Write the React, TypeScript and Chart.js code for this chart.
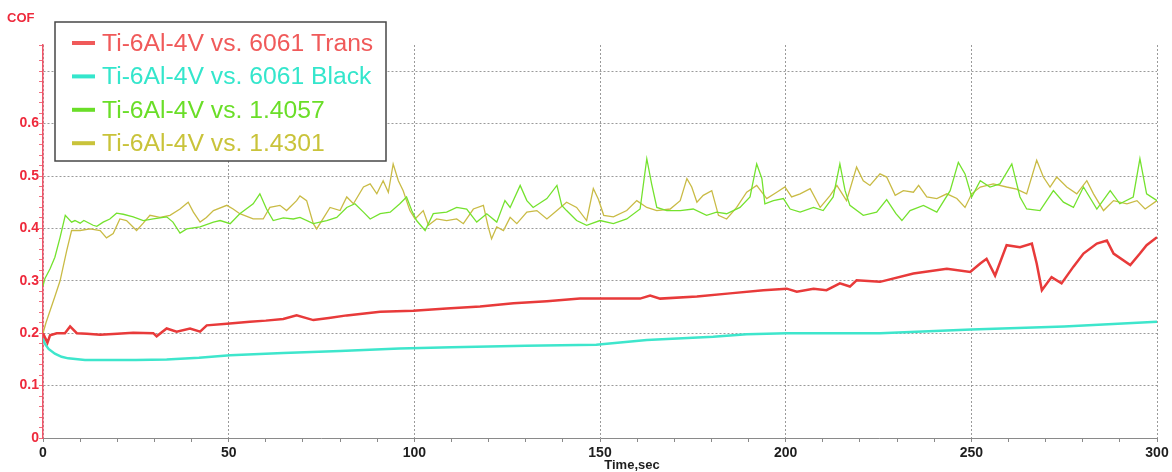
import { useEffect, useRef } from "react";
import { Chart, registerables } from "chart.js";

Chart.register(...registerables);

// ---- series: time (s) and coefficient of friction ----
const transTime = [0, 1.2, 1.9, 3.7, 5.9, 7.3, 9.1, 11.8, 15.4, 20, 24.3, 29.7, 30.6, 33.3, 36, 39.6, 42.3, 44.1, 49.5, 55.7, 60, 64.7, 68.3, 72.8, 77, 81.8, 90.8, 99.7, 108.7, 117.7, 126.7, 135.7, 144.6, 150, 160.8, 163.5, 166.2, 176.1, 185, 194, 200.3, 203, 207.5, 211, 214.6, 217.3, 219.1, 225.4, 234.4, 243.4, 249.7, 252.4, 254.1, 256.4, 259.5, 263.1, 266.3, 267.6, 269, 271.6, 274.3, 277.5, 280.2, 283.8, 286.5, 288.3, 292.8, 295.4, 297.2, 300];
const transCOF = [0.2, 0.182, 0.196, 0.2, 0.2, 0.213, 0.2, 0.199, 0.197, 0.199, 0.201, 0.2, 0.194, 0.209, 0.203, 0.209, 0.203, 0.215, 0.218, 0.222, 0.224, 0.227, 0.234, 0.225, 0.229, 0.234, 0.241, 0.243, 0.247, 0.251, 0.257, 0.261, 0.266, 0.266, 0.266, 0.272, 0.266, 0.27, 0.276, 0.282, 0.285, 0.279, 0.285, 0.282, 0.295, 0.289, 0.301, 0.298, 0.314, 0.323, 0.317, 0.333, 0.342, 0.31, 0.368, 0.364, 0.371, 0.333, 0.282, 0.307, 0.295, 0.327, 0.352, 0.371, 0.377, 0.352, 0.33, 0.352, 0.368, 0.383];

const blackTime = [0, 0.5, 1.5, 3.2, 5, 6.8, 11.3, 15.4, 25, 33.3, 42, 50.4, 64.7, 80, 96, 110, 130, 149, 162.6, 180.5, 189.5, 200.3, 225.4, 250, 275, 300];
const blackCOF = [0.19, 0.18, 0.17, 0.161, 0.155, 0.152, 0.149, 0.149, 0.149, 0.15, 0.153, 0.158, 0.162, 0.166, 0.171, 0.173, 0.176, 0.178, 0.187, 0.193, 0.198, 0.2, 0.2, 0.207, 0.213, 0.222];

const s14057Time = [0, 0.5, 1.9, 3.2, 4.6, 6, 7.7, 8.6, 10, 11, 13.5, 14.5, 16.2, 18, 19.8, 21.6, 24.3, 27, 29.7, 33.3, 35, 36.9, 38.7, 42.3, 45.9, 47.7, 50.4, 53, 56.6, 58.4, 60.2, 62, 64.7, 67.4, 69.2, 72.8, 76.4, 79.1, 81.8, 84, 86.3, 88.1, 90.8, 93.5, 96.1, 97.9, 99.3, 100.6, 102.9, 105.1, 108.7, 111.4, 114.1, 116.8, 119.5, 122.2, 124.4, 125.8, 128.5, 130.3, 132, 135.7, 138.4, 139.7, 141, 143.7, 146.4, 150, 153.6, 157.2, 160.8, 162.6, 163.9, 165.3, 168, 171.6, 175.1, 178.7, 181.4, 184.1, 187.7, 190.4, 192.2, 193.6, 194.4, 196.7, 199.4, 201.2, 203.9, 207.5, 210.1, 212.8, 214.6, 216, 217.3, 220.9, 224.5, 227.2, 229.7, 231.3, 233.5, 237.1, 240.7, 244.3, 246.5, 248.3, 250.1, 252.4, 255, 257.7, 260.9, 263.1, 264.9, 268.5, 272.1, 274.8, 277.5, 280.2, 283.8, 287.4, 290, 293.6, 295.4, 297.2, 300];
const s14057COF = [0.29, 0.304, 0.323, 0.345, 0.383, 0.425, 0.412, 0.415, 0.41, 0.415, 0.406, 0.404, 0.412, 0.418, 0.429, 0.427, 0.422, 0.415, 0.418, 0.422, 0.412, 0.391, 0.399, 0.403, 0.412, 0.415, 0.409, 0.428, 0.447, 0.466, 0.437, 0.415, 0.42, 0.418, 0.421, 0.409, 0.415, 0.421, 0.44, 0.447, 0.431, 0.418, 0.428, 0.431, 0.447, 0.46, 0.434, 0.415, 0.396, 0.428, 0.431, 0.44, 0.437, 0.412, 0.428, 0.412, 0.453, 0.44, 0.482, 0.453, 0.44, 0.457, 0.482, 0.444, 0.434, 0.415, 0.406, 0.415, 0.409, 0.418, 0.437, 0.533, 0.485, 0.44, 0.434, 0.434, 0.437, 0.425, 0.431, 0.428, 0.44, 0.46, 0.523, 0.495, 0.447, 0.453, 0.457, 0.437, 0.431, 0.44, 0.434, 0.46, 0.523, 0.472, 0.444, 0.425, 0.431, 0.455, 0.428, 0.415, 0.434, 0.444, 0.431, 0.472, 0.526, 0.504, 0.46, 0.491, 0.479, 0.485, 0.523, 0.46, 0.437, 0.434, 0.472, 0.45, 0.44, 0.479, 0.437, 0.472, 0.447, 0.46, 0.533, 0.466, 0.453];

const s14301Time = [0, 0.8, 3.2, 4.6, 6.4, 7.7, 10, 12.7, 15.4, 17.1, 18.9, 20.7, 22.5, 25.2, 27, 28.8, 31.5, 34.2, 36.9, 39.1, 40.5, 42.3, 44, 45.9, 49.5, 51.2, 53, 56.6, 59.3, 61.1, 63.8, 65.6, 68.3, 69.2, 71, 72.8, 73.7, 77.3, 80, 81.8, 83.6, 86.3, 88.1, 89.9, 91.6, 93, 94.3, 95.7, 97, 98.8, 100.2, 102.4, 103.8, 106, 108.7, 111.4, 113.2, 115.9, 118.6, 119.9, 120.8, 122.2, 124, 125.8, 127.6, 130.3, 133, 135.7, 138.4, 141, 143.7, 146.4, 148.2, 149.6, 151, 153.6, 157.2, 159.9, 162.6, 165.3, 168.9, 171.6, 173.4, 174.7, 176.1, 177.8, 180.1, 181.9, 184.1, 186.8, 189.5, 192.2, 194.9, 197.6, 199.8, 201.6, 203.9, 206.6, 209.3, 212, 213.8, 216.4, 219.1, 220.9, 222.7, 225.4, 227.2, 229.5, 231.7, 234.4, 235.8, 238, 240.7, 243.4, 246.1, 248.3, 250.1, 252.4, 255.9, 259.5, 262.2, 264.9, 267.6, 269.4, 271.2, 273, 275.7, 278.4, 281.1, 282.9, 285.6, 288.3, 291.9, 294.6, 296.8, 300];
const s14301COF = [0.2, 0.22, 0.27, 0.3, 0.358, 0.396, 0.396, 0.399, 0.396, 0.382, 0.39, 0.418, 0.415, 0.396, 0.41, 0.425, 0.421, 0.425, 0.437, 0.45, 0.431, 0.412, 0.421, 0.434, 0.444, 0.437, 0.428, 0.418, 0.418, 0.44, 0.444, 0.434, 0.453, 0.462, 0.453, 0.409, 0.399, 0.44, 0.434, 0.46, 0.447, 0.479, 0.485, 0.466, 0.491, 0.469, 0.523, 0.491, 0.472, 0.434, 0.418, 0.434, 0.406, 0.418, 0.415, 0.418, 0.409, 0.437, 0.444, 0.403, 0.38, 0.403, 0.396, 0.421, 0.409, 0.431, 0.434, 0.418, 0.434, 0.45, 0.44, 0.415, 0.476, 0.455, 0.425, 0.422, 0.434, 0.453, 0.44, 0.434, 0.437, 0.453, 0.495, 0.479, 0.45, 0.463, 0.472, 0.425, 0.418, 0.44, 0.469, 0.482, 0.457, 0.469, 0.479, 0.46, 0.466, 0.476, 0.44, 0.463, 0.482, 0.453, 0.517, 0.491, 0.482, 0.504, 0.498, 0.463, 0.472, 0.469, 0.482, 0.46, 0.457, 0.466, 0.457, 0.44, 0.466, 0.479, 0.485, 0.479, 0.475, 0.466, 0.53, 0.498, 0.479, 0.498, 0.479, 0.466, 0.491, 0.466, 0.434, 0.453, 0.447, 0.453, 0.437, 0.453];

const seriesLabels = [
  "Ti-6Al-4V vs. 6061 Trans",
  "Ti-6Al-4V vs. 6061 Black",
  "Ti-6Al-4V vs. 1.4057",
  "Ti-6Al-4V vs. 1.4301",
];

// axis ranges and tick steps
const X_MIN = 0;
const X_MAX = 300;
const X_STEP = 10;
const X_LABEL_EVERY = 50;
const Y_MIN = 0;
const Y_MAX = 0.75;
const Y_STEP = 0.02;
const Y_LABEL_MAX = 0.6;

const LINE_COLORS = ["#e83a3a", "#3ee6cc", "#74e22e", "#c9bb45"];
const LEGEND_COLORS = ["#f05a5a", "#34e6cc", "#6ade28", "#c9c33a"];
const LINE_WIDTHS = [2.5, 2.5, 1.3, 1.3];
const AXIS_RED = "#ee2a3c";
const GRID_GRAY = "#9a9a9a";
const FONT = '"Liberation Sans", Arial, sans-serif';

const toPoints = (t: number[], v: number[]) => t.map((x, i) => ({ x, y: v[i] }));

const isTenth = (v: number) => Math.abs(v * 10 - Math.round(v * 10)) < 1e-6;

// Legend box, axis caption and unit label drawn on top of the plot
const overlayPlugin = {
  id: "cofOverlay",
  afterDraw(chart: any) {
    const { ctx, chartArea } = chart;
    const { left, right } = chartArea;
    ctx.save();

    ctx.font = `bold 13px ${FONT}`;
    ctx.fillStyle = AXIS_RED;
    ctx.textAlign = "left";
    ctx.textBaseline = "middle";
    ctx.fillText("COF", 7, 18);

    ctx.fillStyle = "#1e1e1e";
    ctx.textAlign = "center";
    ctx.fillText("Time,sec", (left + right) / 2 + 32, 465);

    const bx = left + 12;
    const by = 22;
    const bw = 331;
    const bh = 139;
    ctx.fillStyle = "#ffffff";
    ctx.fillRect(bx, by, bw, bh);
    ctx.strokeStyle = "#474747";
    ctx.lineWidth = 1.5;
    ctx.strokeRect(bx, by, bw, bh);

    ctx.font = `24.7px ${FONT}`;
    ctx.textAlign = "left";
    chart.data.datasets.forEach((ds: any, i: number) => {
      const y = by + 21 + i * 33.4;
      ctx.strokeStyle = LEGEND_COLORS[i];
      ctx.lineWidth = 4;
      ctx.beginPath();
      ctx.moveTo(bx + 17, y);
      ctx.lineTo(bx + 40, y);
      ctx.stroke();
      ctx.fillStyle = LEGEND_COLORS[i];
      ctx.fillText(ds.label, bx + 47, y + 1);
    });
    ctx.restore();
  },
};

export default function App() {
  const canvasRef = useRef<HTMLCanvasElement | null>(null);

  useEffect(() => {
    document.body.style.margin = "0";
    const canvas = canvasRef.current;
    if (!canvas) return;

    const seriesPoints = [
      toPoints(transTime, transCOF),
      toPoints(blackTime, blackCOF),
      toPoints(s14057Time, s14057COF),
      toPoints(s14301Time, s14301COF),
    ];

    const chart = new Chart(canvas, {
      type: "line",
      data: {
        datasets: seriesPoints.map((data, i) => ({
          label: seriesLabels[i],
          data,
          borderColor: LINE_COLORS[i],
          backgroundColor: LINE_COLORS[i],
          borderWidth: LINE_WIDTHS[i],
          pointRadius: 0,
          tension: 0,
          fill: false,
        })),
      },
      options: {
        responsive: false,
        animation: false,
        devicePixelRatio: 1,
        layout: { padding: { top: 45, right: 15, left: 0, bottom: 0 } },
        plugins: {
          legend: { display: false },
          tooltip: { enabled: false },
        },
        scales: {
          x: {
            type: "linear",
            min: X_MIN,
            max: X_MAX,
            afterFit: (scale: any) => {
              scale.height = 34;
            },
            ticks: {
              stepSize: X_STEP,
              autoSkip: false,
              maxRotation: 0,
              padding: 3,
              color: "#1e1e1e",
              font: { family: FONT, size: 14, weight: "bold" },
              callback: (v: any) => (Number(v) % X_LABEL_EVERY === 0 ? String(v) : ""),
            },
            grid: {
              color: (c: any) =>
                c.tick && c.tick.value % X_LABEL_EVERY === 0 ? GRID_GRAY : "rgba(0,0,0,0)",
              lineWidth: 1,
              tickColor: "#8a8a8a",
              tickLength: 4,
            },
            border: { display: true, color: "#8a8a8a", width: 1, dash: [2, 2] },
          },
          y: {
            type: "linear",
            min: Y_MIN,
            max: Y_MAX,
            afterFit: (scale: any) => {
              scale.width = 43;
            },
            ticks: {
              stepSize: Y_STEP,
              autoSkip: false,
              padding: 0,
              color: AXIS_RED,
              font: { family: FONT, size: 14, weight: "bold" },
              callback: (v: any) => {
                const n = Number(v);
                if (!isTenth(n) || n > Y_LABEL_MAX + 1e-6) return "";
                return n === 0 ? "0" : n.toFixed(1);
              },
            },
            grid: {
              color: (c: any) =>
                c.tick && isTenth(c.tick.value) && c.tick.value > 0 ? GRID_GRAY : "rgba(0,0,0,0)",
              lineWidth: 1,
              tickColor: "#f07080",
              tickLength: 4,
            },
            border: { display: true, color: "#f25468", width: 1.5, dash: [2, 2] },
          },
        },
      },
      plugins: [overlayPlugin],
    });

    return () => chart.destroy();
  }, []);

  return (
    <div style={{ width: 1172, height: 472 }}>
      <canvas ref={canvasRef} width={1172} height={472} />
    </div>
  );
}
